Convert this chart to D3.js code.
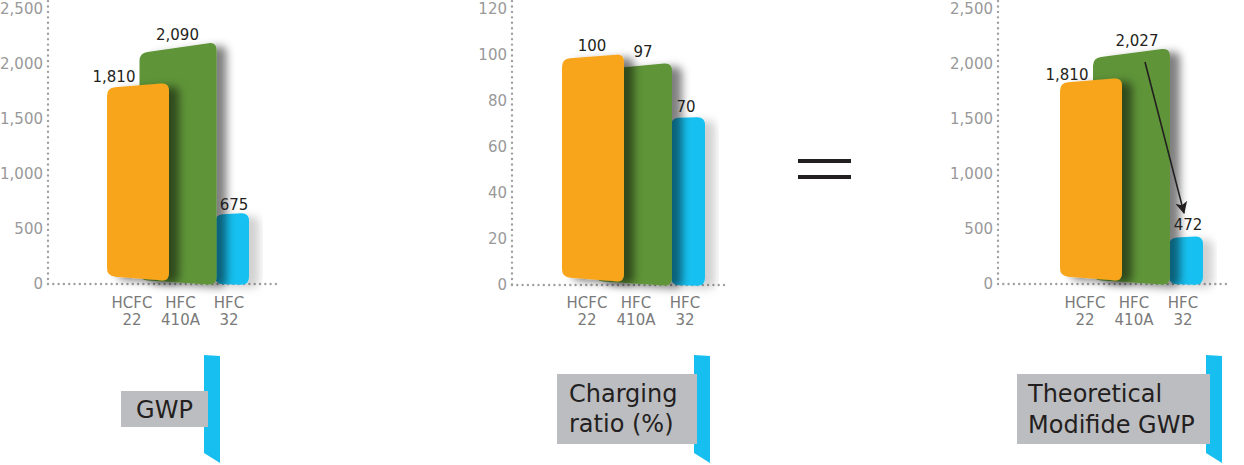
<!DOCTYPE html>
<html>
<head>
<meta charset="utf-8">
<script src="https://cdn.jsdelivr.net/npm/d3@7"></script>
<style>
  html, body { margin: 0; padding: 0; background: #ffffff; }
  svg { display: block; }
</style>
</head>
<body>
<svg id="chart" width="1244" height="465"></svg>
<script>
// ---------- data ----------
const categories = ["HCFC 22", "HFC 410A", "HFC 32"];
const categoryLines = [["HCFC", "22"], ["HFC", "410A"], ["HFC", "32"]];
const gwpValues = [1810, 2090, 675];
const chargingValues = [100, 97, 70];
const modifiedGwpValues = [1810, 2027, 472];
const gwpTicks = [0, 500, 1000, 1500, 2000, 2500];
const chargingTicks = [0, 20, 40, 60, 80, 100, 120];
const panelTitles = [["GWP"], ["Charging", "ratio (%)"], ["Theoretical", "Modifide GWP"]];

// ---------- layout / style ----------
const colors = ["#f8a51d", "#5f9438", "#14c1f1"];
const shadowIds = ["ds", "ds", "dsLight"];
const drawOrder = [2, 1, 0];                 // back to front
const barExtent = [[-25, 37], [-41, 36], [-14, 20]]; // relative to category position
const bottomOff = [[-8, -3], [-4, 1], [0, 1]];

const panels = [
  { values: gwpValues, ticks: gwpTicks, max: 2500, axisX: 48, base: 284, top: 9,
    xRange: [132, 229], baseEnd: 280,
    topOff: [[3, -2], [-1, -12], [5, 3]],
    labOff: [[-18, -3], [-3, -14], [5, 0]],
    box: { x: 121, y: 391, w: 87, h: 36 }, flagX: 204,
    title: { anchor: "middle", x: 164.5, y: [418] } },
  { values: chargingValues, ticks: chargingTicks, max: 120, axisX: 512, base: 285, top: 9,
    xRange: [587, 685], baseEnd: 728,
    topOff: [[4, -1], [8, 1], [-6, -7]],
    labOff: [[5, -4], [7, -5], [1, -12]],
    box: { x: 557, y: 374, w: 140, h: 70 }, flagX: 694,
    title: { anchor: "start", x: 569, y: [402, 432] } },
  { values: modifiedGwpValues, ticks: gwpTicks, max: 2500, axisX: 998, base: 284, top: 9,
    xRange: [1085, 1183], baseEnd: 1230,
    topOff: [[-2, -7], [-3, -13], [6, 4]],
    labOff: [[-18, -5], [3, -15], [5, -2]],
    box: { x: 1017, y: 374, w: 193, h: 70 }, flagX: 1206,
    title: { anchor: "start", x: 1028, y: [402, 433] },
    arrow: true }
];

const svg = d3.select("#chart");
const defs = svg.append("defs");
function addShadow(id, op) {
  const f = defs.append("filter").attr("id", id)
    .attr("x", "-40%").attr("y", "-20%").attr("width", "180%").attr("height", "140%");
  f.append("feDropShadow").attr("dx", 10).attr("dy", 3).attr("stdDeviation", 4.5)
    .attr("flood-color", "#000").attr("flood-opacity", op);
}
addShadow("ds", 0.5);
addShadow("dsLight", 0.18);

defs.append("marker").attr("id", "arrowhead")
  .attr("viewBox", "0 0 12 12").attr("refX", 11).attr("refY", 6)
  .attr("markerWidth", 12).attr("markerHeight", 12).attr("markerUnits", "userSpaceOnUse")
  .attr("orient", "auto")
  .append("path").attr("d", "M0,0 L12,6 L0,12 L3,6 Z").attr("fill", "#231f20");

function roundedPath(pts, r) {
  const n = pts.length;
  let d = "";
  for (let i = 0; i < n; i++) {
    const p = pts[i], prev = pts[(i - 1 + n) % n], next = pts[(i + 1) % n];
    const v1 = [prev[0] - p[0], prev[1] - p[1]], v2 = [next[0] - p[0], next[1] - p[1]];
    const l1 = Math.hypot(...v1), l2 = Math.hypot(...v2);
    const r1 = Math.min(r, l1 / 2), r2 = Math.min(r, l2 / 2);
    const a = [p[0] + v1[0] / l1 * r1, p[1] + v1[1] / l1 * r1];
    const b = [p[0] + v2[0] / l2 * r2, p[1] + v2[1] / l2 * r2];
    d += (i === 0 ? "M" : "L") + a[0] + "," + a[1] + "Q" + p[0] + "," + p[1] + "," + b[0] + "," + b[1];
  }
  return d + "Z";
}

panels.forEach((P, pi) => {
  const g = svg.append("g");
  const y = d3.scaleLinear().domain([0, P.max]).range([P.base, P.top]);
  const x = d3.scalePoint().domain(categories).range(P.xRange);

  // dotted axis lines
  g.append("line").attr("x1", P.axisX).attr("x2", P.axisX).attr("y1", 1).attr("y2", P.base)
    .attr("stroke", "#a0a0a0").attr("stroke-width", 2.4).attr("stroke-linecap", "round")
    .attr("stroke-dasharray", "0,5.45");
  g.append("line").attr("x1", P.axisX).attr("x2", P.baseEnd).attr("y1", P.base).attr("y2", P.base)
    .attr("stroke", "#a0a0a0").attr("stroke-width", 2.4).attr("stroke-linecap", "round")
    .attr("stroke-dasharray", "0,5.3");

  // y axis labels
  const ax = g.append("g").attr("transform", `translate(${P.axisX},0)`)
    .call(d3.axisLeft(y).tickValues(P.ticks).tickSize(0).tickPadding(5).tickFormat(d3.format(",")));
  ax.select(".domain").remove();
  ax.selectAll("text").attr("font-family", "DejaVu Sans").attr("font-size", 15).attr("fill", "#999999");

  // bars
  drawOrder.forEach(i => {
    const cx = x(categories[i]);
    const v = P.values[i];
    const xl = cx + barExtent[i][0], xr = cx + barExtent[i][1];
    const pts = [
      [xl, y(v) + P.topOff[i][0]],
      [xr, y(v) + P.topOff[i][1]],
      [xr, y(0) + bottomOff[i][1]],
      [xl, y(0) + bottomOff[i][0]]
    ];
    g.append("path").attr("d", roundedPath(pts, 8)).attr("fill", colors[i])
      .attr("filter", `url(#${shadowIds[i]})`);
  });

  // value labels
  P.values.forEach((v, i) => {
    g.append("text").attr("x", x(categories[i]) + P.labOff[i][0]).attr("y", y(v) + P.labOff[i][1])
      .attr("text-anchor", "middle").attr("font-family", "DejaVu Sans").attr("font-size", 15)
      .attr("fill", "#231f20").text(d3.format(",")(v));
  });

  // category labels
  categories.forEach((c, i) => {
    categoryLines[i].forEach((ln, k) => {
      g.append("text").attr("x", x(c)).attr("y", 308 + k * 17).attr("text-anchor", "middle")
        .attr("font-family", "DejaVu Sans").attr("font-size", 15).attr("fill", "#7a7a7a").text(ln);
    });
  });

  // arrow (modified GWP panel)
  if (P.arrow) {
    g.append("line")
      .attr("x1", x(categories[1]) + 11).attr("y1", y(P.values[1]) + 1)
      .attr("x2", x(categories[2]) + 1).attr("y2", y(P.values[2]) - 19)
      .attr("stroke", "#231f20").attr("stroke-width", 1.6).attr("marker-end", "url(#arrowhead)");
  }

  // title flag + box
  const fx = P.flagX;
  g.append("path").attr("d", `M${fx},355 L${fx + 16},356 L${fx + 16},463 L${fx},453 Z`).attr("fill", "#16bff0");
  g.append("rect").attr("x", P.box.x).attr("y", P.box.y).attr("width", P.box.w).attr("height", P.box.h)
    .attr("fill", "#bcbdc0");
  panelTitles[pi].forEach((t, k) => {
    g.append("text").attr("x", P.title.x).attr("y", P.title.y[k]).attr("text-anchor", P.title.anchor)
      .attr("font-family", "DejaVu Sans").attr("font-size", 24).attr("fill", "#231f20").text(t);
  });
});

// equals sign
const eq = svg.append("g");
[159, 175].forEach(yy => {
  eq.append("rect").attr("x", 798).attr("y", yy).attr("width", 53).attr("height", 4).attr("fill", "#231f20");
});
</script>
</body>
</html>
